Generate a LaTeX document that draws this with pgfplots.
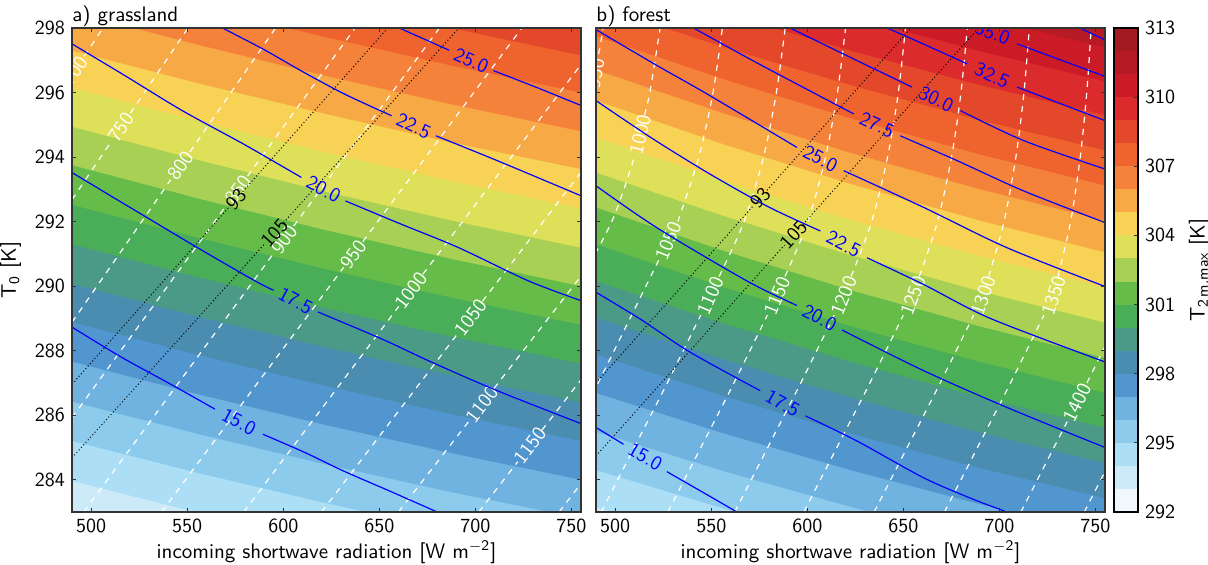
\documentclass[border=0pt]{standalone}
\usepackage{pgfplots}
\pgfplotsset{compat=1.18}

\definecolor{c292}{HTML}{F0F7FD}
\definecolor{c293}{HTML}{CDEAF8}
\definecolor{c294}{HTML}{ACDFF5}
\definecolor{c295}{HTML}{8DCBED}
\definecolor{c296}{HTML}{70B2E0}
\definecolor{c297}{HTML}{5296CF}
\definecolor{c298}{HTML}{4A8DB0}
\definecolor{c299}{HTML}{4B9A88}
\definecolor{c300}{HTML}{4AAD58}
\definecolor{c301}{HTML}{66BC48}
\definecolor{c302}{HTML}{A8D055}
\definecolor{c303}{HTML}{DDE058}
\definecolor{c304}{HTML}{F8D254}
\definecolor{c305}{HTML}{F6A945}
\definecolor{c306}{HTML}{F5823A}
\definecolor{c307}{HTML}{EF632E}
\definecolor{c308}{HTML}{E4482B}
\definecolor{c309}{HTML}{DB2B2C}
\definecolor{c310}{HTML}{CB1B26}
\definecolor{c311}{HTML}{B61A24}
\definecolor{c312}{HTML}{A31A20}

\tikzset{
  wl/.style={text=white},
  kl/.style={text=black},
  ul/.style={text=blue},
}
\pgfplotsset{
  /pgf/number format/assume math mode=true,
  every axis/.append style={font=\fontsize{10}{12}\selectfont\sffamily},
  every axis label/.append style={font=\fontsize{10.5}{12}\selectfont\sffamily},
  every axis title/.append style={font=\fontsize{10.5}{12}\selectfont\sffamily},
  panel/.style={
    scale only axis, width=254.5pt, height=242pt,
    xmin=490, xmax=755, ymin=283, ymax=298,
    xtick={500,550,...,750}, ytick={284,286,...,298},
    axis on top, major tick length=2pt,
    axis line style={black!80, line width=0.6pt},
    tick style={black!80, line width=0.5pt},
    xlabel={incoming shortwave radiation [W m\textsuperscript{$-$2}]},
    xlabel style={yshift=3pt},
    title style={at={(0,1)}, anchor=base west, yshift=-2.5pt, inner sep=0pt},
  },
  band/.style={draw=none, fill=#1},
  wd/.style={white, line width=0.6pt, dash pattern=on 3pt off 3pt},
  bk/.style={black, line width=0.5pt, dash pattern=on 0.5pt off 1.2pt},
  bl/.style={blue, line width=0.6pt, smooth},
}

\begin{document}
\begin{tikzpicture}

% ---------------- a) grassland ----------------
\begin{axis}[panel, at={(0pt,0pt)}, anchor=south west,
  title={a) grassland}, ylabel={T\textsubscript{0} [K]}]
\addplot[band=c293] coordinates {(490,280)(755,280)(755,305)(490,305)} -- cycle;
\addplot[band=c294] coordinates {(490,283.96)(556.25,282.97)(622.5,282.05)(688.75,281.19)(755,280.40)(755,305)(490,305)} -- cycle;
\addplot[band=c295] coordinates {(490,285.20)(556.25,284.20)(622.5,283.27)(688.75,282.40)(755,281.60)(755,305)(490,305)} -- cycle;
\addplot[band=c296] coordinates {(490,286.42)(556.25,285.41)(622.5,284.47)(688.75,283.60)(755,282.80)(755,305)(490,305)} -- cycle;
\addplot[band=c297] coordinates {(490,287.66)(556.25,286.64)(622.5,285.69)(688.75,284.81)(755,284.00)(755,305)(490,305)} -- cycle;
\addplot[band=c298] coordinates {(490,288.88)(556.25,287.86)(622.5,286.90)(688.75,286.02)(755,285.20)(755,305)(490,305)} -- cycle;
\addplot[band=c299] coordinates {(490,290.07)(556.25,289.05)(622.5,288.10)(688.75,287.21)(755,286.40)(755,305)(490,305)} -- cycle;
\addplot[band=c300] coordinates {(490,291.30)(556.25,290.27)(622.5,289.31)(688.75,288.42)(755,287.60)(755,305)(490,305)} -- cycle;
\addplot[band=c301] coordinates {(490,292.52)(556.25,291.49)(622.5,290.52)(688.75,289.63)(755,288.80)(755,305)(490,305)} -- cycle;
\addplot[band=c302] coordinates {(490,293.75)(556.25,292.71)(622.5,291.73)(688.75,290.83)(755,290.00)(755,305)(490,305)} -- cycle;
\addplot[band=c303] coordinates {(490,294.94)(556.25,293.90)(622.5,292.92)(688.75,292.02)(755,291.19)(755,305)(490,305)} -- cycle;
\addplot[band=c304] coordinates {(490,296.15)(556.25,295.11)(622.5,294.14)(688.75,293.24)(755,292.41)(755,305)(490,305)} -- cycle;
\addplot[band=c305] coordinates {(490,297.30)(556.25,296.28)(622.5,295.33)(688.75,294.44)(755,293.63)(755,305)(490,305)} -- cycle;
\addplot[band=c306] coordinates {(490,298.50)(556.25,297.47)(622.5,296.51)(688.75,295.62)(755,294.80)(755,305)(490,305)} -- cycle;
\addplot[band=c307] coordinates {(490,299.70)(556.25,298.67)(622.5,297.71)(688.75,296.82)(755,296.00)(755,305)(490,305)} -- cycle;
\addplot[band=c308] coordinates {(490,300.90)(556.25,299.86)(622.5,298.88)(688.75,297.98)(755,297.15)(755,305)(490,305)} -- cycle;
\addplot[band=c309] coordinates {(490,302.10)(556.25,301.06)(622.5,300.08)(688.75,299.18)(755,298.35)(755,305)(490,305)} -- cycle;

% white dashed contours
\addplot[wd] coordinates {(496.4,297.13)(506.1,298)};
\addplot[wd] coordinates {(490,292.68)(510.4,294.48)};
\addplot[wd] coordinates {(520.4,295.36)(550.4,298)};
\addplot[wd] coordinates {(490,288.88)(541.4,293.30)};
\addplot[wd] coordinates {(551.4,294.16)(596.0,298)};
\addplot[wd] coordinates {(490,285.92)(571.4,292.59)};
\addplot[wd] coordinates {(581.4,293.41)(637.4,298)};
\addplot[wd] coordinates {(496.1,283)(595.4,291.05)};
\addplot[wd] coordinates {(605.4,291.86)(681.3,298)};
\addplot[wd] coordinates {(536.6,283)(631.4,290.58)};
\addplot[wd] coordinates {(641.4,291.38)(724.2,298)};
\addplot[wd] coordinates {(579.4,283)(660.1,289.37)};
\addplot[wd] coordinates {(672.7,290.37)(755,296.87)};
\addplot[wd] coordinates {(619.9,283)(691.1,288.55)};
\addplot[wd] coordinates {(703.7,289.53)(755,293.53)};
\addplot[wd] coordinates {(660.0,283)(697.1,285.85)};
\addplot[wd] coordinates {(709.7,286.83)(755,290.31)};
\addplot[wd] coordinates {(701.8,283)(722.1,284.56)};
\addplot[wd] coordinates {(734.7,285.54)(755,287.10)};
\addplot[wd] coordinates {(743.6,283)(755,283.88)};
\node[wl, rotate=56] at (axis cs:491.4,296.68) {700};
\node[wl, rotate=56] at (axis cs:515.4,294.92) {750};
\node[wl, rotate=55] at (axis cs:546.4,293.73) {800};
\node[wl, rotate=54] at (axis cs:576.4,293.00) {850};
\node[wl, rotate=54] at (axis cs:600.4,291.45) {900};
\node[wl, rotate=53] at (axis cs:636.4,290.98) {950};
\node[wl, rotate=53] at (axis cs:666.4,289.87) {1000};
\node[wl, rotate=53] at (axis cs:697.4,289.04) {1050};
\node[wl, rotate=53] at (axis cs:703.4,286.34) {1100};
\node[wl, rotate=53] at (axis cs:728.4,285.05) {1150};

% black dotted contours
\addplot[bk] coordinates {(490,286.96)(571.9,292.46)};
\addplot[bk] coordinates {(578.9,292.93)(654.4,298)};
\addplot[bk] coordinates {(490,284.68)(590.6,291.33)};
\addplot[bk] coordinates {(600.2,291.97)(691.4,298)};
\node[kl, rotate=48] at (axis cs:575.4,292.69) {93};
\node[kl, rotate=48] at (axis cs:595.4,291.65) {105};

% blue contours
\addplot[bl] coordinates {(490,288.73)(515.4,287.81)(541.4,286.96)(564.4,286.19)};
\addplot[bl] coordinates {(589.4,285.41)(611.4,284.84)(631.4,284.27)(655.4,283.65)(679.4,283.02)(685,282.88)};
\node[ul, rotate=-28] at (axis cs:576.9,285.80) {15.0};
\addplot[bl] coordinates {(490,293.52)(517.4,292.54)(555.4,291.19)(585.4,290.16)(595,289.87)};
\addplot[bl] coordinates {(618,289.20)(651.4,288.36)(677.4,287.64)(711.4,286.76)(755,285.74)};
\node[ul, rotate=-28] at (axis cs:606.4,289.55) {17.5};
\addplot[bl] coordinates {(490,297.51)(517.4,296.53)(547.4,295.44)(579.4,294.40)(609.4,293.37)};
\addplot[bl] coordinates {(632.4,292.64)(661.4,291.92)(691.4,291.19)(727.4,290.17)(755,289.55)};
\node[ul, rotate=-28] at (axis cs:621,293.00) {20.0};
\addplot[bl] coordinates {(560,298.28)(568.4,298)(590,297.33)(610,296.65)(632,295.95)(656.4,295.28)};
\addplot[bl] coordinates {(679.4,294.66)(711.4,293.89)(755,292.80)};
\node[ul, rotate=-25] at (axis cs:667.9,294.97) {22.5};
\addplot[bl] coordinates {(652,298.22)(660.4,298)(686.4,297.31)};
\addplot[bl] coordinates {(709.4,296.68)(731.4,296.17)(755,295.60)};
\node[ul, rotate=-25] at (axis cs:697.9,296.99) {25.0};
\end{axis}

% ---------------- b) forest ----------------
\begin{axis}[panel, at={(262pt,0pt)}, anchor=south west,
  title={b) forest}, yticklabels={}]
\addplot[band=c293] coordinates {(490,280)(755,280)(755,306)(490,306)} -- cycle;
\addplot[band=c294] coordinates {(490,283.15)(556.25,281.98)(622.5,280.91)(688.75,279.94)(755,279.07)(755,306)(490,306)} -- cycle;
\addplot[band=c295] coordinates {(490,284.30)(556.25,283.11)(622.5,282.02)(688.75,281.04)(755,280.16)(755,306)(490,306)} -- cycle;
\addplot[band=c296] coordinates {(490,285.49)(556.25,284.27)(622.5,283.16)(688.75,282.15)(755,281.25)(755,306)(490,306)} -- cycle;
\addplot[band=c297] coordinates {(490,286.69)(556.25,285.44)(622.5,284.30)(688.75,283.26)(755,282.34)(755,306)(490,306)} -- cycle;
\addplot[band=c298] coordinates {(490,287.88)(556.25,286.60)(622.5,285.43)(688.75,284.38)(755,283.43)(755,306)(490,306)} -- cycle;
\addplot[band=c299] coordinates {(490,289.02)(556.25,287.73)(622.5,286.55)(688.75,285.48)(755,284.52)(755,306)(490,306)} -- cycle;
\addplot[band=c300] coordinates {(490,290.16)(556.25,288.85)(622.5,287.66)(688.75,286.58)(755,285.61)(755,306)(490,306)} -- cycle;
\addplot[band=c301] coordinates {(490,291.30)(556.25,289.97)(622.5,288.76)(688.75,287.67)(755,286.69)(755,306)(490,306)} -- cycle;
\addplot[band=c302] coordinates {(490,292.44)(556.25,291.10)(622.5,289.88)(688.75,288.77)(755,287.78)(755,306)(490,306)} -- cycle;
\addplot[band=c303] coordinates {(490,293.52)(556.25,292.18)(622.5,290.96)(688.75,289.86)(755,288.87)(755,306)(490,306)} -- cycle;
\addplot[band=c304] coordinates {(490,294.61)(556.25,293.27)(622.5,292.05)(688.75,290.95)(755,289.96)(755,306)(490,306)} -- cycle;
\addplot[band=c305] coordinates {(490,295.75)(556.25,294.40)(622.5,293.17)(688.75,292.05)(755,291.05)(755,306)(490,306)} -- cycle;
\addplot[band=c306] coordinates {(490,296.70)(556.25,295.36)(622.5,294.13)(688.75,293.02)(755,292.03)(755,306)(490,306)} -- cycle;
\addplot[band=c307] coordinates {(490,297.75)(556.25,296.42)(622.5,295.20)(688.75,294.10)(755,293.12)(755,306)(490,306)} -- cycle;
\addplot[band=c308] coordinates {(490,298.70)(556.25,297.41)(622.5,296.23)(688.75,295.16)(755,294.21)(755,306)(490,306)} -- cycle;
\addplot[band=c309] coordinates {(490,299.75)(556.25,298.47)(622.5,297.30)(688.75,296.25)(755,295.30)(755,306)(490,306)} -- cycle;
\addplot[band=c310] coordinates {(490,300.80)(556.25,299.52)(622.5,298.35)(688.75,297.30)(755,296.35)(755,306)(490,306)} -- cycle;
\addplot[band=c311] coordinates {(490,301.85)(556.25,300.57)(622.5,299.40)(688.75,298.35)(755,297.40)(755,306)(490,306)} -- cycle;
\addplot[band=c312] coordinates {(490,302.90)(556.25,301.62)(622.5,300.45)(688.75,299.40)(755,298.45)(755,306)(490,306)} -- cycle;

% white dashed contours
\addplot[wd, smooth] coordinates {(491.4,297.2)(493.7,298)(494.2,298.5)};
\addplot[wd, smooth] coordinates {(477.5,289.7)(498.2,292)(510.5,294.1)};
\addplot[wd, smooth] coordinates {(515.2,295.3)(518.0,296)(523.4,298)};
\addplot[wd, smooth] coordinates {(456.7,283)(473.9,285)(491.1,287)(513.5,289.7)(522.6,290.8)};
\addplot[wd, smooth] coordinates {(532.6,292)(543.5,294)(550.9,296)(555.8,298)};
\addplot[wd, smooth] coordinates {(492.7,283)(509.9,285)(527.1,287)(544.5,289.1)};
\addplot[wd, smooth] coordinates {(554.1,290.3)(567.1,292)(577.2,294)(583.9,296)(588.5,298)};
\addplot[wd, smooth] coordinates {(527.4,283)(544.6,285)(561.8,287)(579.2,289.1)};
\addplot[wd, smooth] coordinates {(588.4,290.3)(600.3,292)(609.5,294)(615.7,296)(619.9,298)};
\addplot[wd, smooth] coordinates {(562.2,283)(579.4,285)(596.6,287)(614.0,289.1)};
\addplot[wd, smooth] coordinates {(622.8,290.3)(633.5,292)(641.8,294)(647.4,296)(651.1,298)};
\addplot[wd, smooth] coordinates {(598.2,283)(615.4,285)(632.6,287)(650.0,289.1)};
\addplot[wd, smooth] coordinates {(658.3,290.3)(667.8,292)(675.1,294)(680.0,296)(683.3,298)};
\addplot[wd, smooth] coordinates {(634.8,283)(652.0,285)(669.2,287)(686.6,289.1)};
\addplot[wd, smooth] coordinates {(694.4,290.3)(702.4,292)(708.6,294)(712.8,296)(715.6,298)};
\addplot[wd, smooth] coordinates {(671.4,283)(688.6,285)(705.8,287)(723.2,289.1)};
\addplot[wd, smooth] coordinates {(730.5,290.3)(737.1,292)(742.1,294)(745.5,296)(747.8,298)};
\addplot[wd, smooth] coordinates {(711.2,283)(728.4,285)(735.3,285.8)};
\addplot[wd, smooth] coordinates {(745.6,287.0)(763.0,289.1)};
\addplot[wd] coordinates {(744.2,283)(761.4,285)};
\node[wl, rotate=80] at (axis cs:489.8,296.6) {950};
\node[wl, rotate=77] at (axis cs:513.0,294.7) {1000};
\node[wl, rotate=68] at (axis cs:527.6,291.4) {1050};
\node[wl, rotate=67] at (axis cs:549.5,289.7) {1100};
\node[wl, rotate=68] at (axis cs:584.2,289.7) {1150};
\node[wl, rotate=69] at (axis cs:619.0,289.7) {1200};
\node[wl, rotate=70] at (axis cs:655.0,289.7) {1250};
\node[wl, rotate=71] at (axis cs:691.6,289.7) {1300};
\node[wl, rotate=72] at (axis cs:728.2,289.7) {1350};
\node[wl, rotate=64] at (axis cs:740.4,286.4) {1400};

% black dotted contours
\addplot[bk] coordinates {(490,287.00)(572.0,292.50)};
\addplot[bk] coordinates {(579.0,292.97)(654.0,298)};
\addplot[bk] coordinates {(490,284.74)(588.1,291.27)};
\addplot[bk] coordinates {(597.7,291.91)(689.2,298)};
\node[kl, rotate=48] at (axis cs:575.5,292.73) {93};
\node[kl, rotate=48] at (axis cs:592.9,291.59) {105};

% blue contours
\addplot[bl] coordinates {(490,285.62)(504.3,285.10)};
\addplot[bl] coordinates {(526.9,284.25)(547.7,283.54)(563.4,283.0)(567,282.88)};
\node[ul, rotate=-30] at (axis cs:515.6,284.72) {15.0};
\addplot[bl] coordinates {(490,289.81)(513,288.98)(539.1,287.95)(575.5,286.76)};
\addplot[bl] coordinates {(599,285.98)(625.9,285.2)(660.6,284.06)(686.6,283.39)(704,283.0)(708,282.9)};
\node[ul, rotate=-29] at (axis cs:587.2,286.37) {17.5};
\addplot[bl] coordinates {(490,293.11)(521.7,291.81)(568.6,290.16)(594.6,289.40)};
\addplot[bl] coordinates {(618.1,288.64)(660.6,287.38)(704,286.24)(755,285.0)};
\node[ul, rotate=-28] at (axis cs:606.4,289.02) {20.0};
\addplot[bl] coordinates {(490,295.75)(520,294.55)(550,293.45)(580,292.45)(606.8,291.71)};
\addplot[bl] coordinates {(631.1,290.88)(660.6,290.05)(695.3,289.0)(755,287.65)};
\node[ul, rotate=-27] at (axis cs:619,291.3) {22.5};
\addplot[bl] coordinates {(486,298.1)(490,297.95)(521.7,296.84)(547.7,295.96)(594.6,294.30)};
\addplot[bl] coordinates {(618.9,293.58)(660.6,292.44)(704,291.19)(755,289.99)};
\node[ul, rotate=-27] at (axis cs:606.8,293.95) {25.0};
\addplot[bl] coordinates {(535,298.2)(540.8,298)(573.8,296.92)(624.1,295.34)};
\addplot[bl] coordinates {(648.4,294.66)(678,293.89)(712.7,292.95)(755,291.97)};
\node[ul, rotate=-25] at (axis cs:636.3,295.0) {27.5};
\addplot[bl] coordinates {(585,298.2)(591.1,298)(625.9,296.99)(654.5,296.17)};
\addplot[bl] coordinates {(679.7,295.44)(712.7,294.51)(755,293.63)};
\node[ul, rotate=-26] at (axis cs:667.1,295.8) {30.0};
\addplot[bl] coordinates {(635,298.13)(641.5,298)(660.6,297.5)(683.2,296.89)};
\addplot[bl] coordinates {(709.2,296.17)(755,295.13)};
\node[ul, rotate=-25] at (axis cs:696.2,296.53) {32.5};
\addplot[bl] coordinates {(709.2,297.51)(755,296.5)};
\node[ul, rotate=-22] at (axis cs:696.5,297.85) {35.0};
\addplot[bl] coordinates {(740,298.05)(755,297.63)};
\end{axis}

% ---------------- colour bar ----------------
\begin{axis}[at={(521pt,0pt)}, anchor=south west,
  scale only axis, width=12pt, height=242pt,
  xmin=0, xmax=1, ymin=292, ymax=313,
  xtick=\empty, ytick={292,295,...,313},
  ytick pos=right, yticklabel pos=right,
  axis on top, major tick length=2pt,
  axis line style={black, line width=0.6pt},
  tick style={black!80, line width=0.5pt},
  ylabel={T\textsubscript{2\,m,max} [K]}, ylabel near ticks]
\addplot[band=c292] coordinates {(0,292)(1,292)(1,293)(0,293)} -- cycle;
\addplot[band=c293] coordinates {(0,293)(1,293)(1,294)(0,294)} -- cycle;
\addplot[band=c294] coordinates {(0,294)(1,294)(1,295)(0,295)} -- cycle;
\addplot[band=c295] coordinates {(0,295)(1,295)(1,296)(0,296)} -- cycle;
\addplot[band=c296] coordinates {(0,296)(1,296)(1,297)(0,297)} -- cycle;
\addplot[band=c297] coordinates {(0,297)(1,297)(1,298)(0,298)} -- cycle;
\addplot[band=c298] coordinates {(0,298)(1,298)(1,299)(0,299)} -- cycle;
\addplot[band=c299] coordinates {(0,299)(1,299)(1,300)(0,300)} -- cycle;
\addplot[band=c300] coordinates {(0,300)(1,300)(1,301)(0,301)} -- cycle;
\addplot[band=c301] coordinates {(0,301)(1,301)(1,302)(0,302)} -- cycle;
\addplot[band=c302] coordinates {(0,302)(1,302)(1,303)(0,303)} -- cycle;
\addplot[band=c303] coordinates {(0,303)(1,303)(1,304)(0,304)} -- cycle;
\addplot[band=c304] coordinates {(0,304)(1,304)(1,305)(0,305)} -- cycle;
\addplot[band=c305] coordinates {(0,305)(1,305)(1,306)(0,306)} -- cycle;
\addplot[band=c306] coordinates {(0,306)(1,306)(1,307)(0,307)} -- cycle;
\addplot[band=c307] coordinates {(0,307)(1,307)(1,308)(0,308)} -- cycle;
\addplot[band=c308] coordinates {(0,308)(1,308)(1,309)(0,309)} -- cycle;
\addplot[band=c309] coordinates {(0,309)(1,309)(1,310)(0,310)} -- cycle;
\addplot[band=c310] coordinates {(0,310)(1,310)(1,311)(0,311)} -- cycle;
\addplot[band=c311] coordinates {(0,311)(1,311)(1,312)(0,312)} -- cycle;
\addplot[band=c312] coordinates {(0,312)(1,312)(1,313)(0,313)} -- cycle;
\end{axis}

\pgfresetboundingbox
\path (-36pt,-26pt) rectangle (568pt,256pt);
\end{tikzpicture}
\end{document}
